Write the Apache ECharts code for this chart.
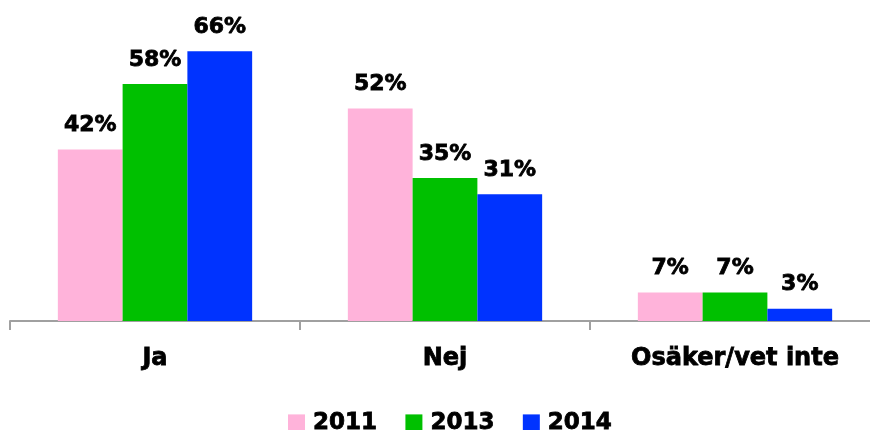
<!DOCTYPE html>
<html>
<head>
<meta charset="utf-8">
<script src="https://cdn.jsdelivr.net/npm/echarts@6/dist/echarts.min.js"></script>
<style>
  html, body { margin: 0; padding: 0; background: #fff; }
  #chart { width: 870px; height: 430px; }
</style>
</head>
<body>
<div id="chart"></div>
<script>
let kategorier = ['Ja', 'Nej', 'Osäker/vet inte']
let ar = ['2011', '2013', '2014']
let varden2011 = [42, 52, 7]
let varden2013 = [58, 35, 7]
let varden2014 = [66, 31, 3]
let farger = ['#ffb3da', '#00c000', '#0033ff']

let typsnitt = 'DejaVu Sans'
let myChart = echarts.init(document.getElementById('chart'), null, { renderer: 'canvas' })

let serieData = [varden2011, varden2013, varden2014]
let series = ar.map(function (namn, i) {
    return {
        name: namn,
        type: 'bar',
        data: serieData[i],
        barGap: '0%',
        barCategoryGap: '33%',
        itemStyle: { color: farger[i] },
        label: {
            show: true,
            position: 'top',
            distance: 13,
            formatter: '{c}%',
            color: '#000',
            fontFamily: typsnitt,
            fontWeight: 'bold',
            fontSize: 22,
            textBorderColor: '#000',
            textBorderWidth: 0.8,
        },
    }
})

let option = {
    animation: false,
    backgroundColor: '#fff',
    // axeln fortsätter förbi högerkanten i originalet
    grid: { left: 10, width: 870, top: 35, bottom: 109, containLabel: false, outerBoundsMode: 'none' },
    legend: {
        data: ar,
        top: 406,
        left: 283,
        itemWidth: 17,
        itemHeight: 17,
        itemGap: 28,
        icon: 'rect',
        textStyle: {
            fontFamily: typsnitt, fontWeight: 'bold', fontSize: 23, color: '#000',
            padding: [0, 0, 0, 3], textBorderColor: '#000', textBorderWidth: 0.8,
        },
    },
    xAxis: {
        type: 'category',
        data: kategorier,
        axisLine: { show: true, lineStyle: { color: '#a0a0a0', width: 2 } },
        axisTick: { show: true, length: 9, lineStyle: { color: '#a0a0a0', width: 2 } },
        axisLabel: {
            margin: 26, color: '#000', fontFamily: typsnitt, fontWeight: 'bold', fontSize: 24,
            textBorderColor: '#000', textBorderWidth: 0.8,
        },
    },
    yAxis: {
        type: 'value',
        min: 0,
        max: 70,
        show: false,
        splitLine: { show: false },
    },
    series: series,
}

myChart.setOption(option)
</script>
</body>
</html>
